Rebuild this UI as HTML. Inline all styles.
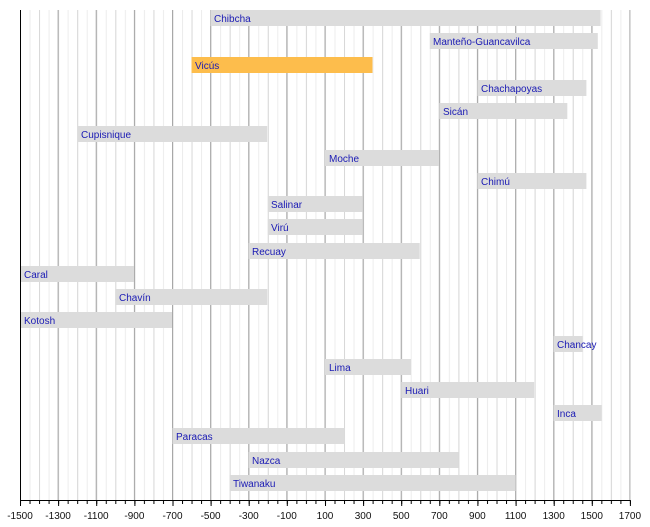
<!DOCTYPE html>
<html><head><style>
body{margin:0;background:#fff}
svg text{font-family:"Liberation Sans",sans-serif}
.l{font-size:10px;fill:#1a1ab4}
.t{font-size:10px;fill:#111;text-anchor:middle}
</style></head><body>
<svg width="650" height="522" xmlns="http://www.w3.org/2000/svg">
<defs>
<pattern id="p50" x="20" y="0" width="9.53" height="10" patternUnits="userSpaceOnUse"><line x1="0.5" y1="0" x2="0.5" y2="10" stroke="#ececec" stroke-width="1"/></pattern>
<pattern id="p100" x="20" y="0" width="19.06" height="10" patternUnits="userSpaceOnUse"><line x1="0.5" y1="0" x2="0.5" y2="10" stroke="#d8d8d8" stroke-width="1"/></pattern>
<pattern id="t50" x="20" y="0" width="9.53" height="10" patternUnits="userSpaceOnUse"><line x1="0.5" y1="0" x2="0.5" y2="10" stroke="#000" stroke-width="1"/></pattern>
</defs>
<rect x="20" y="10" width="610" height="490" fill="url(#p50)"/>
<rect x="20" y="10" width="610" height="490" fill="url(#p100)"/>
<g stroke="#a8a8a8" stroke-width="1">
<line x1="58.1" y1="10" x2="58.1" y2="500"/><line x1="96.2" y1="10" x2="96.2" y2="500"/><line x1="134.4" y1="10" x2="134.4" y2="500"/><line x1="172.5" y1="10" x2="172.5" y2="500"/><line x1="210.6" y1="10" x2="210.6" y2="500"/><line x1="248.7" y1="10" x2="248.7" y2="500"/><line x1="286.8" y1="10" x2="286.8" y2="500"/><line x1="325" y1="10" x2="325" y2="500"/><line x1="363.1" y1="10" x2="363.1" y2="500"/><line x1="401.2" y1="10" x2="401.2" y2="500"/><line x1="439.3" y1="10" x2="439.3" y2="500"/><line x1="477.4" y1="10" x2="477.4" y2="500"/><line x1="515.6" y1="10" x2="515.6" y2="500"/><line x1="553.7" y1="10" x2="553.7" y2="500"/><line x1="591.8" y1="10" x2="591.8" y2="500"/><line x1="629.9" y1="10" x2="629.9" y2="500"/>
</g>
<g fill="#dcdcdc">
<rect x="210.6" y="10" width="390" height="16"/>
<rect x="429.8" y="33" width="168" height="16"/>
<rect x="191.5" y="57" width="181" height="16" fill="#fdbd4c"/>
<rect x="477.4" y="80" width="109" height="16"/>
<rect x="439.3" y="103" width="128" height="16"/>
<rect x="77.2" y="126" width="190" height="16"/>
<rect x="325" y="150" width="114" height="16"/>
<rect x="477.4" y="173" width="109" height="16"/>
<rect x="267.8" y="196" width="95" height="16"/>
<rect x="267.8" y="219" width="95" height="16"/>
<rect x="248.7" y="243" width="171" height="16"/>
<rect x="20" y="266" width="114" height="16"/>
<rect x="115.3" y="289" width="152" height="16"/>
<rect x="20" y="312" width="152" height="16"/>
<rect x="553.7" y="336" width="29" height="16"/>
<rect x="325" y="359" width="86" height="16"/>
<rect x="401.2" y="382" width="133" height="16"/>
<rect x="553.7" y="405" width="48" height="16"/>
<rect x="172.5" y="428" width="172" height="16"/>
<rect x="248.7" y="452" width="210" height="16"/>
<rect x="229.6" y="475" width="286" height="16"/>
</g>
<g class="l">
<text x="214" y="22">Chibcha</text>
<text x="433" y="45">Manteño-Guancavilca</text>
<text x="195" y="69">Vicús</text>
<text x="481" y="92">Chachapoyas</text>
<text x="443" y="115">Sicán</text>
<text x="81" y="138">Cupisnique</text>
<text x="329" y="162">Moche</text>
<text x="481" y="185">Chimú</text>
<text x="271" y="208">Salinar</text>
<text x="271" y="231">Virú</text>
<text x="252" y="255">Recuay</text>
<text x="24" y="278">Caral</text>
<text x="119" y="301">Chavín</text>
<text x="24" y="324">Kotosh</text>
<text x="557" y="348">Chancay</text>
<text x="329" y="371">Lima</text>
<text x="405" y="394">Huari</text>
<text x="557" y="417">Inca</text>
<text x="176" y="440">Paracas</text>
<text x="252" y="464">Nazca</text>
<text x="233" y="487">Tiwanaku</text>
</g>
<line x1="20.5" y1="10" x2="20.5" y2="500" stroke="#000"/>
<line x1="20" y1="500.5" x2="630.5" y2="500.5" stroke="#000"/>
<rect x="20" y="501" width="611" height="3" fill="url(#t50)"/>
<g stroke="#000">
<line x1="20.5" y1="500" x2="20.5" y2="506"/><line x1="58.6" y1="500" x2="58.6" y2="506"/><line x1="96.7" y1="500" x2="96.7" y2="506"/><line x1="134.9" y1="500" x2="134.9" y2="506"/><line x1="173" y1="500" x2="173" y2="506"/><line x1="211.1" y1="500" x2="211.1" y2="506"/><line x1="249.2" y1="500" x2="249.2" y2="506"/><line x1="287.3" y1="500" x2="287.3" y2="506"/><line x1="325.5" y1="500" x2="325.5" y2="506"/><line x1="363.6" y1="500" x2="363.6" y2="506"/><line x1="401.7" y1="500" x2="401.7" y2="506"/><line x1="439.8" y1="500" x2="439.8" y2="506"/><line x1="477.9" y1="500" x2="477.9" y2="506"/><line x1="516.1" y1="500" x2="516.1" y2="506"/><line x1="554.2" y1="500" x2="554.2" y2="506"/><line x1="592.3" y1="500" x2="592.3" y2="506"/><line x1="630.4" y1="500" x2="630.4" y2="506"/>
</g>
<g class="t">
<text x="20" y="519">-1500</text><text x="58.1" y="519">-1300</text><text x="96.2" y="519">-1100</text><text x="134.4" y="519">-900</text><text x="172.5" y="519">-700</text><text x="210.6" y="519">-500</text><text x="248.7" y="519">-300</text><text x="286.8" y="519">-100</text><text x="325" y="519">100</text><text x="363.1" y="519">300</text><text x="401.2" y="519">500</text><text x="439.3" y="519">700</text><text x="477.4" y="519">900</text><text x="515.6" y="519">1100</text><text x="553.7" y="519">1300</text><text x="591.8" y="519">1500</text><text x="629.9" y="519">1700</text>
</g>
</svg>
</body></html>
